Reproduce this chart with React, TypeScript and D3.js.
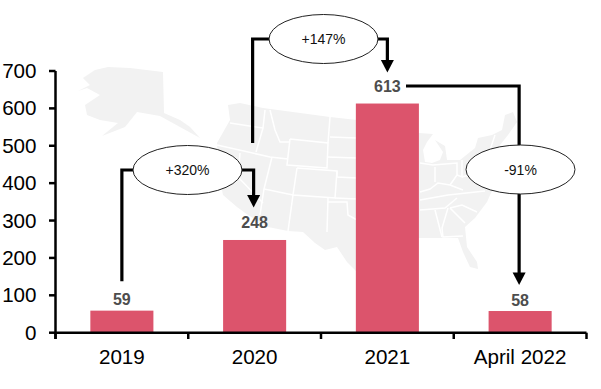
import React from "react";
import * as d3 from "d3";

const categories = ["2019", "2020", "2021", "April 2022"];
const values = [59, 248, 613, 58];
const yTicks = [0, 100, 200, 300, 400, 500, 600, 700];
const changes = ["+320%", "+147%", "-91%"];

const WIDTH = 601, HEIGHT = 389;
const FONT = "'Liberation Sans', Arial, sans-serif";
const x = d3.scaleBand<string>().domain(categories).range([55.5, 586.5]).paddingInner(0.525).paddingOuter(0.2625);
const y = d3.scaleLinear().domain([0, 700]).range([332.7, 71]);
const cx = (c: string) => (x(c) as number) + x.bandwidth() / 2;

const alaska: [number, number][] = [[83,78],[95,70],[108,67],[130,68],[163,72],[164,113],[180,120],[190,127],[200,138],[180,127],[160,116],[137,112],[125,127],[102,136],[118,123],[100,120],[87,115],[85,105],[100,95],[87,88],[78,91],[90,85]];
const lower48: [number, number][] = [[228,105],[240,103],[263,108],[330,117],[357,120],[400,127],[419,133],[433,134],[427,142],[423,150],[425,162],[432,163],[440,160],[443,152],[435,140],[445,146],[447,160],[460,160],[475,148],[478,138],[492,135],[502,130],[505,115],[513,112],[517,122],[508,135],[500,145],[505,165],[495,185],[490,195],[487,202],[475,218],[465,227],[467,247],[477,262],[478,269],[470,267],[463,252],[458,238],[443,238],[425,238],[419,238],[400,240],[357,272],[347,262],[337,247],[325,250],[315,243],[303,232],[288,231],[268,227],[248,215],[237,207],[223,195],[218,170],[217,143],[230,120]];
const stateLines: [number, number][][] = [
  [[230,123],[263,128]],[[265,110],[263,128],[256,152]],[[217,145],[270,157],[288,159]],[[270,110],[275,130],[280,142],[290,142]],
  [[290,139],[328,143],[327,168],[287,165],[290,139]],[[330,117],[328,143]],[[330,137],[357,138]],[[327,157],[357,158]],
  [[297,168],[337,171],[337,177],[357,178]],[[297,168],[293,195],[335,198],[337,171]],[[272,157],[264,189],[293,195]],
  [[240,153],[238,177],[263,203]],[[264,189],[260,215]],[[293,195],[288,231]],[[328,198],[327,232]],[[328,202],[347,202],[348,215],[357,220]],[[335,198],[357,199]],
  [[420,200],[448,195],[485,191]],[[420,210],[445,208],[457,198]],[[435,167],[435,182]],[[420,192],[430,189],[438,183],[450,185],[463,190]],
  [[433,165],[457,163],[457,175],[450,185]],[[435,210],[442,237]],[[448,208],[442,228],[443,237],[463,236]],[[450,208],[465,223]],[[450,208],[462,205],[477,212]],
  [[462,160],[462,177],[457,175]],[[462,177],[480,172]],[[420,163],[433,165]],[[490,150],[495,135]],
];

const line = d3.line();
const stroke = { stroke: "#000", strokeWidth: 3.2, fill: "none" } as const;

function Arrow({ px, tip }: { px: number; tip: number }) {
  const path = d3.path();
  path.moveTo(px, tip);
  path.lineTo(px - 6.5, tip - 12.5);
  path.lineTo(px + 6.5, tip - 12.5);
  path.closePath();
  return <path d={path.toString()} fill="#000" />;
}

function Bubble({ px, py, label }: { px: number; py: number; label: string }) {
  return (
    <g>
      <ellipse cx={px} cy={py} rx={54.5} ry={24.5} fill="#fff" stroke="#222" strokeWidth={1} />
      <text x={px} y={py + 5} textAnchor="middle" fontSize={14} fontFamily={FONT} fill="#111">{label}</text>
    </g>
  );
}

export default function App() {
  const c0 = cx(categories[0]), c1 = cx(categories[1]), c2 = cx(categories[2]), c3 = cx(categories[3]);
  const b1 = y(values[0]) - 29.5;
  return (
    <svg width={WIDTH} height={HEIGHT} style={{ position: "absolute", left: 0, top: 0, background: "#fff" }}>
      <g fill="#f2f2f2">
        <path d={line(alaska) + "Z"} />
        <path d={line(lower48) + "Z"} />
      </g>
      <g stroke="#fff" strokeWidth={1.5} fill="none">
        {stateLines.map((s, i) => <path key={i} d={line(s) as string} />)}
      </g>

      {categories.map((c, i) => (
        <rect key={c} x={x(c)} y={y(values[i])} width={x.bandwidth()} height={y(0) - y(values[i])} fill="#dc546c" />
      ))}

      <path d={line([[c0, b1], [c0, 170], [c1 - 1, 170], [c1 - 1, 196]]) as string} {...stroke} />
      <Arrow px={c1 - 1} tip={207.5} />
      <path d={line([[c1 - 2, 143], [c1 - 2, 39], [c2, 39], [c2, 62]]) as string} {...stroke} />
      <Arrow px={c2} tip={72.5} />
      <path d={line([[406, 86], [c3 - 1, 86], [c3 - 1, 274]]) as string} {...stroke} />
      <Arrow px={c3 - 1} tip={285} />

      <Bubble px={187.5} py={170} label={changes[0]} />
      <Bubble px={323.5} py={39} label={changes[1]} />
      <Bubble px={520.5} py={169.5} label={changes[2]} />

      {categories.map((c, i) => (
        <text key={c} x={cx(c)} y={y(values[i]) - (values[i] > 100 ? 11.5 : 5.5)} textAnchor="middle" fontSize={16} fontWeight="bold" fontFamily={FONT} fill="#4d4d4d">{values[i]}</text>
      ))}

      <g stroke="#000" strokeWidth={2.5} fill="none">
        <path d={line([[55.5, y(700)], [55.5, 339]]) as string} />
        <path d={line([[55.5, y(0)], [586.5, y(0)]]) as string} />
        {yTicks.map(t => <path key={t} d={line([[49, y(t)], [55.5, y(t)]]) as string} />)}
        {d3.range(categories.length + 1).map(i => {
          const tx = 55.5 + i * x.step();
          return <path key={i} d={line([[tx, y(0)], [tx, 339]]) as string} />;
        })}
      </g>
      {yTicks.map(t => (
        <text key={t} x={36.5} y={y(t) + 7} textAnchor="end" fontSize={20.6} fontFamily={FONT} fill="#000">{t}</text>
      ))}
      {categories.map(c => (
        <text key={c} x={cx(c)} y={364} textAnchor="middle" fontSize={20.6} fontFamily={FONT} fill="#000">{c}</text>
      ))}
    </svg>
  );
}
